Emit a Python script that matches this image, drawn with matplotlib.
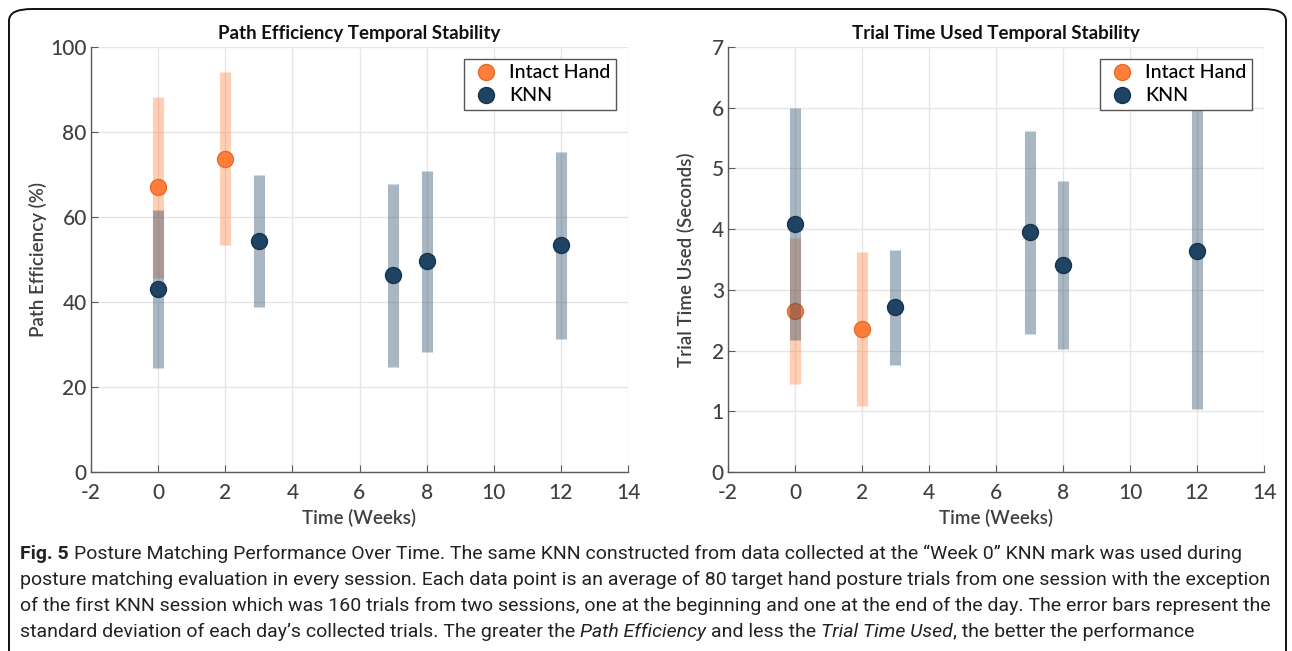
#!/usr/bin/env python3
"""Posture matching performance over time: path efficiency and trial time used."""

import matplotlib
matplotlib.use("Agg")
import matplotlib.pyplot as plt
from matplotlib import font_manager
from matplotlib.patches import FancyBboxPatch
from matplotlib.lines import Line2D

# ---- data -------------------------------------------------------------
intact_weeks = [0, 2]
knn_weeks = [0, 3, 7, 8, 12]

intact_pe = [67.0, 73.7]
intact_pe_sd = [21.3, 20.4]
knn_pe = [43.1, 54.3, 46.3, 49.6, 53.4]
knn_pe_sd = [18.6, 15.5, 21.5, 21.3, 22.0]

intact_tt = [2.65, 2.35]
intact_tt_sd = [1.20, 1.27]
knn_tt = [4.08, 2.71, 3.95, 3.41, 3.64]
knn_tt_sd = [1.91, 0.95, 1.67, 1.38, 2.61]

x_ticks = [-2, 0, 2, 4, 6, 8, 10, 12, 14]
pe_ticks = [0, 20, 40, 60, 80, 100]
tt_ticks = [0, 1, 2, 3, 4, 5, 6, 7]

caption_lines = [
    [("Fig. 5", "bold"), ("Posture Matching Performance Over Time. The same KNN constructed from data "
                          "collected at the \u201cWeek 0\u201d KNN mark was used during", "normal")],
    [("posture matching evaluation in every session. Each data point is an average of 80 target hand "
      "posture trials from one session with the exception", "normal")],
    [("of the first KNN session which was 160 trials from two sessions, one at the beginning and one "
      "at the end of the day. The error bars represent the", "normal")],
    [("standard deviation of each day\u2019s collected trials. The greater the", "normal"),
     ("Path Efficiency", "italic"), ("and less the", "normal"), ("Trial Time Used", "italic"),
     (", the better the performance", "normal_nospace")],
]

ORANGE = "#FF7F3A"
ORANGE_EDGE = "#E8692A"
NAVY = "#1F4363"
NAVY_EDGE = "#173450"
TEXT_GREY = "#404040"

installed = {f.name for f in font_manager.fontManager.ttflist}
CHART_FONT = [f for f in ["Lato", "Open Sans", "DejaVu Sans"] if f in installed]
CAPTION_FONT = [f for f in ["Liberation Sans Narrow", "Roboto", "DejaVu Sans"] if f in installed][:1] + ["DejaVu Sans"]

plt.rcParams["font.family"] = CHART_FONT


def style_axes(ax, yticks, ylabel, title, ylabel_x):
    ax.set_xlim(-2, 14)
    ax.set_ylim(yticks[0], yticks[-1])
    ax.set_xticks(x_ticks)
    ax.set_xticklabels([str(v) for v in x_ticks])
    ax.set_yticks(yticks)
    ax.grid(True, color="#E6E6E6", linewidth=1.0)
    ax.set_axisbelow(True)
    for side in ["top", "right"]:
        ax.spines[side].set_visible(False)
    for side in ["left", "bottom"]:
        ax.spines[side].set_color("#5A5A5A")
        ax.spines[side].set_linewidth(1.0)
    ax.tick_params(direction="in", length=5, color="#5A5A5A", labelsize=15,
                   labelcolor=TEXT_GREY)
    ax.tick_params(axis="x", pad=8)
    ax.tick_params(axis="y", pad=3)
    for lab in ax.get_xticklabels() + ax.get_yticklabels():
        lab.set_fontweight("medium")
    ax.set_xlabel("Time (Weeks)", fontsize=13.5, color=TEXT_GREY, fontweight="semibold", labelpad=4)
    ax.set_ylabel(ylabel, fontsize=13.5, color=TEXT_GREY, fontweight="semibold")
    ax.yaxis.set_label_coords(ylabel_x, 0.5)
    ax.set_title(title, fontsize=13.5, fontweight="bold", color="#111111", pad=6)


def plot_panel(ax, intact, intact_sd, knn, knn_sd):
    ax.errorbar(intact_weeks, intact, yerr=intact_sd, fmt="none", ecolor=ORANGE,
                elinewidth=8, alpha=0.38, capsize=0, zorder=2)
    ax.plot(intact_weeks, intact, "o", color=ORANGE, markeredgecolor=ORANGE_EDGE,
            markersize=11.5, zorder=3)
    ax.errorbar(knn_weeks, knn, yerr=knn_sd, fmt="none", ecolor=NAVY,
                elinewidth=8, alpha=0.38, capsize=0, zorder=4)
    ax.plot(knn_weeks, knn, "o", color=NAVY, markeredgecolor=NAVY_EDGE,
            markersize=11.5, zorder=5)

    handles = [
        Line2D([], [], marker="o", linestyle="none", color=ORANGE,
               markeredgecolor=ORANGE_EDGE, markersize=11.5),
        Line2D([], [], marker="o", linestyle="none", color=NAVY,
               markeredgecolor=NAVY_EDGE, markersize=11.5),
    ]
    leg = ax.legend(handles, ["Intact Hand", "KNN"], loc="upper right",
                    prop={"size": 14, "weight": "medium"},
                    fancybox=False, framealpha=1.0, edgecolor="#555555",
                    borderaxespad=0.6, handletextpad=0.4, borderpad=0.3,
                    labelspacing=0.3, handlelength=1.6)
    leg.get_frame().set_linewidth(1.0)
    leg.set_zorder(10)


def draw_caption(fig, x0, y0, line_gap, size):
    renderer = fig.canvas.get_renderer()
    fig_w = fig.bbox.width
    probe_a = fig.text(0, 0, "a a", fontsize=size, family=CAPTION_FONT)
    probe_b = fig.text(0, 0, "aa", fontsize=size, family=CAPTION_FONT)
    space = (probe_a.get_window_extent(renderer).width
             - probe_b.get_window_extent(renderer).width) / fig_w
    probe_a.remove()
    probe_b.remove()

    for i, runs in enumerate(caption_lines):
        x = x0
        y = y0 - i * line_gap
        for j, (text, kind) in enumerate(runs):
            if j > 0 and kind != "normal_nospace":
                x += space
            weight = "bold" if kind == "bold" else "normal"
            style = "italic" if kind == "italic" else "normal"
            t = fig.text(x, y, text, fontsize=size, family=CAPTION_FONT,
                         fontweight=weight, fontstyle=style, color="#222222",
                         va="baseline", ha="left")
            x += t.get_window_extent(renderer).width / fig_w


def main() -> None:
    fig = plt.figure(figsize=(12.92, 6.51), dpi=100)
    W, H = 1292.0, 651.0

    ax1 = fig.add_axes([91 / W, 1 - 472 / H, 537 / W, 425 / H])
    ax2 = fig.add_axes([728 / W, 1 - 472 / H, 536 / W, 425 / H])

    plot_panel(ax1, intact_pe, intact_pe_sd, knn_pe, knn_pe_sd)
    style_axes(ax1, pe_ticks, "Path Efficiency (%)", "Path Efficiency Temporal Stability", -0.082)

    plot_panel(ax2, intact_tt, intact_tt_sd, knn_tt, knn_tt_sd)
    style_axes(ax2, tt_ticks, "Trial Time Used (Seconds)", "Trial Time Used Temporal Stability", -0.062)

    # rounded frame around the whole figure
    frame = FancyBboxPatch((9 / W, -12 / H), 1277 / W, 654 / H,
                           boxstyle="round,pad=0,rounding_size=0.018",
                           transform=fig.transFigure, fill=False,
                           edgecolor="#111111", linewidth=1.4, clip_on=False)
    fig.patches.append(frame)

    draw_caption(fig, 20 / W, 1 - 559 / H, 26 / H, 14.0)

    fig.savefig("out.png", dpi=100)
    plt.close(fig)


if __name__ == "__main__":
    main()
